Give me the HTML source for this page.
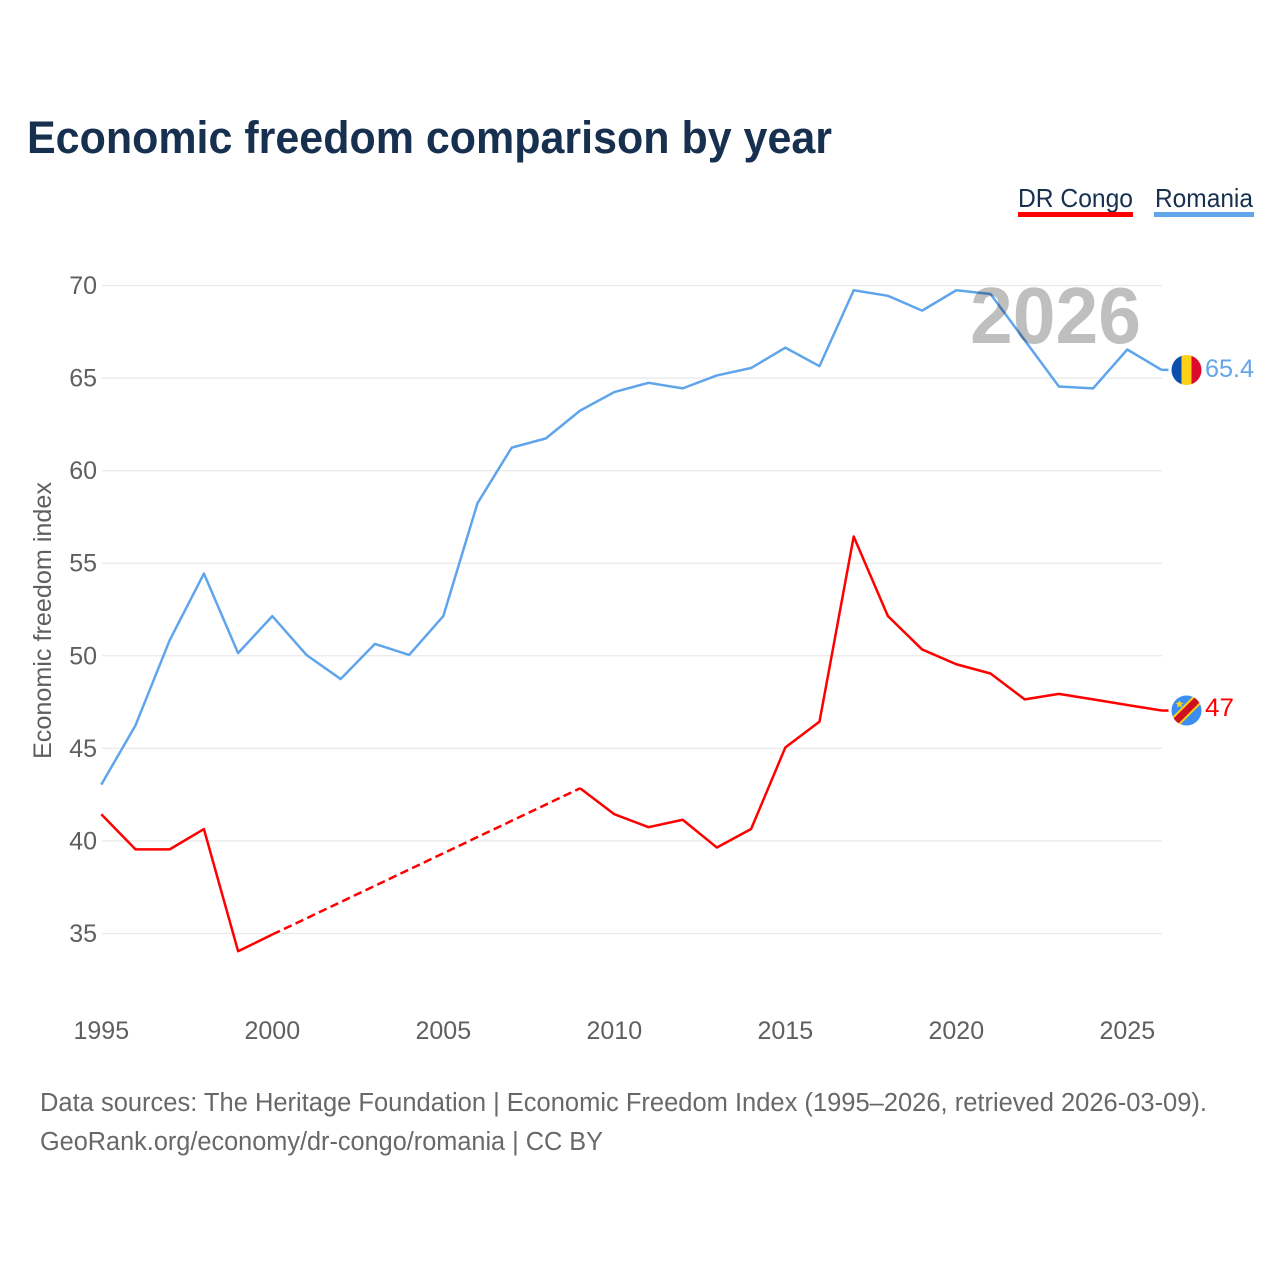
<!DOCTYPE html>
<html lang="en">
<head>
<meta charset="utf-8">
<title>Economic freedom comparison by year</title>
<style>
html,body{margin:0;padding:0;background:#fff;width:1280px;height:1280px;overflow:hidden}
svg{display:block;font-family:"Liberation Sans",sans-serif}
</style>
</head>
<body>
<svg id="chart" xmlns="http://www.w3.org/2000/svg" width="1280" height="1280" viewBox="0 0 1280 1280">
<defs>
<clipPath id="flag-clip-ro"><circle cx="1186.5" cy="370" r="15"/></clipPath>
<clipPath id="flag-clip-cd"><circle cx="1186.5" cy="710.5" r="15"/></clipPath>
</defs>
<rect width="1280" height="1280" fill="#fff"/>
<text x="27" y="153" font-size="45" font-weight="700" fill="#18304f" textLength="805" lengthAdjust="spacingAndGlyphs">Economic freedom comparison by year</text>
<g>
<text x="1018" y="207" font-size="26" fill="#18304f" textLength="115" lengthAdjust="spacingAndGlyphs">DR Congo</text>
<rect x="1018" y="212" width="115" height="5" fill="#ff0000"/>
</g>
<g>
<text x="1155" y="207" font-size="26" fill="#18304f" textLength="98" lengthAdjust="spacingAndGlyphs">Romania</text>
<rect x="1154" y="212" width="100" height="5" fill="#63a5ea"/>
</g>
<g id="grid"></g>
<g id="y-ticks"></g>
<g id="x-ticks"></g>
<text transform="translate(51 759) rotate(-90)" font-size="25" fill="#5f5f5f" textLength="277" lengthAdjust="spacingAndGlyphs">Economic freedom index</text>
<g id="series"></g>
<text x="970" y="343" font-size="80" font-weight="700" fill="#000" fill-opacity="0.25" textLength="171" lengthAdjust="spacingAndGlyphs">2026</text>
<g clip-path="url(#flag-clip-ro)">
<rect x="1171" y="355" width="11" height="30" fill="#0a4fb0"/>
<rect x="1181.5" y="355" width="10" height="30" fill="#fcd116"/>
<rect x="1191.5" y="355" width="11" height="30" fill="#dc0a2c"/>
</g>
<g clip-path="url(#flag-clip-cd)">
<rect x="1171" y="695" width="31" height="31" fill="#3b8df0"/>
<path d="M1168 729 L1205 692" stroke="#fcd116" stroke-width="11" fill="none"/>
<path d="M1168 729 L1205 692" stroke="#ce1021" stroke-width="7" fill="none"/>
<path d="M1179.5 700 l1.2 2.6 2.8.3-2.1 1.9.6 2.8-2.5-1.4-2.5 1.4.6-2.8-2.1-1.9 2.8-.3z" fill="#fcd116"/>
</g>
<text id="end-ro" x="1205" y="377" font-size="25" fill="#63a5ea" textLength="49" lengthAdjust="spacingAndGlyphs"></text>
<text id="end-cd" x="1205" y="716" font-size="25" fill="#ff0000" textLength="29" lengthAdjust="spacingAndGlyphs"></text>
<text x="40" y="1111" font-size="25.5" fill="#686868" textLength="1167" lengthAdjust="spacingAndGlyphs">Data sources: The Heritage Foundation | Economic Freedom Index (1995–2026, retrieved 2026-03-09).</text>
<text x="40" y="1150" font-size="25.5" fill="#686868" textLength="563" lengthAdjust="spacingAndGlyphs">GeoRank.org/economy/dr-congo/romania | CC BY</text>
</svg>
<script>
const years = [1995,1996,1997,1998,1999,2000,2001,2002,2003,2004,2005,2006,2007,2008,2009,2010,2011,2012,2013,2014,2015,2016,2017,2018,2019,2020,2021,2022,2023,2024,2025,2026];
const romaniaValues = [43.0,46.2,50.8,54.4,50.1,52.1,50.0,48.7,50.6,50.0,52.1,58.2,61.2,61.7,63.2,64.2,64.7,64.4,65.1,65.5,66.6,65.6,69.7,69.4,68.6,69.7,69.5,67.0,64.5,64.4,66.5,65.4];
const drCongoValues = [41.4,39.5,39.5,40.6,34.0,34.9,null,null,null,null,null,null,null,null,42.8,41.4,40.7,41.1,39.6,40.6,45.0,46.4,56.4,52.1,50.3,49.5,49.0,47.6,47.9,47.6,47.3,47.0];
const yTickValues = [35,40,45,50,55,60,65,70];
const xTickValues = [1995,2000,2005,2010,2015,2020,2025];

const NS = 'http://www.w3.org/2000/svg';
const xScale = function (year) { return 101.3 + (year - 1995) * 34.2; };
const yScale = function (value) { return 933.5 - (value - 35) * (648 / 35); };
const lineY = function (value) { return yScale(value) - 0.8; };
const ROMANIA_COLOR = '#5fa5ec';
const CONGO_COLOR = '#ff0000';
const LINE_WIDTH = 2.5;

function svgEl(tag, parent) {
  const el = document.createElementNS(NS, tag);
  parent.appendChild(el);
  return el;
}

const gridGroup = document.getElementById('grid');
const yGroup = document.getElementById('y-ticks');
yTickValues.forEach(function (tick) {
  const line = svgEl('line', gridGroup);
  
  
  line.setAttribute('x1', 102);
  line.setAttribute('x2', 1162);
  line.setAttribute('y1', yScale(tick));
  line.setAttribute('y2', yScale(tick));
  line.setAttribute('stroke', '#e9e9e9');
  line.setAttribute('stroke-width', 1.3);
  const label = svgEl('text', yGroup);
  
  
  label.setAttribute('x', 97);
  label.setAttribute('y', yScale(tick) + 8.5);
  label.setAttribute('text-anchor', 'end');
  label.setAttribute('font-size', 25);
  label.setAttribute('fill', '#5f5f5f');
  label.textContent = tick;
});

const xGroup = document.getElementById('x-ticks');
xTickValues.forEach(function (tick) {
  const label = svgEl('text', xGroup);
  
  
  label.setAttribute('x', xScale(tick));
  label.setAttribute('y', 1039);
  label.setAttribute('text-anchor', 'middle');
  label.setAttribute('font-size', 25);
  label.setAttribute('fill', '#5f5f5f');
  label.textContent = tick;
});

const seriesGroup = document.getElementById('series');
function drawSeries(values, color, seriesName) {
  const solidRuns = [];
  const gaps = [];
  let run = [];
  let last = null;
  values.forEach(function (value, i) {
    if (value === null) return;
    const pt = [xScale(years[i]), lineY(value)];
    if (last !== null && i - last > 1) {
      gaps.push([[xScale(years[last]), lineY(values[last])], pt]);
      solidRuns.push(run);
      run = [];
    }
    run.push(pt);
    last = i;
  });
  solidRuns.push(run);
  solidRuns.forEach(function (points) {
    const path = svgEl('polyline', seriesGroup);
    
    
    path.setAttribute('points', points.map(function (p) { return p.join(','); }).join(' '));
    path.setAttribute('fill', 'none');
    path.setAttribute('stroke', color);
    path.setAttribute('stroke-width', LINE_WIDTH);
    path.setAttribute('stroke-linejoin', 'round');
  });
  gaps.forEach(function (gap) {
    const dash = svgEl('line', seriesGroup);
    
    
    dash.setAttribute('x1', gap[0][0]);
    dash.setAttribute('y1', gap[0][1]);
    dash.setAttribute('x2', gap[1][0]);
    dash.setAttribute('y2', gap[1][1]);
    dash.setAttribute('stroke', color);
    dash.setAttribute('stroke-width', LINE_WIDTH);
    dash.setAttribute('stroke-dasharray', '8.5 4.4');
  });
  const endValue = values[values.length - 1];
  const connector = svgEl('line', seriesGroup);
  
  
  connector.setAttribute('x1', xScale(years[years.length - 1]));
  connector.setAttribute('x2', xScale(years[years.length - 1]) + 7);
  connector.setAttribute('y1', lineY(endValue));
  connector.setAttribute('y2', lineY(endValue));
  connector.setAttribute('stroke', color);
  connector.setAttribute('stroke-width', LINE_WIDTH);
}
drawSeries(romaniaValues, ROMANIA_COLOR, 'romania');
drawSeries(drCongoValues, CONGO_COLOR, 'dr-congo');

document.getElementById('end-ro').textContent = romaniaValues[romaniaValues.length - 1];
document.getElementById('end-cd').textContent = drCongoValues[drCongoValues.length - 1];
</script>
</body>
</html>
